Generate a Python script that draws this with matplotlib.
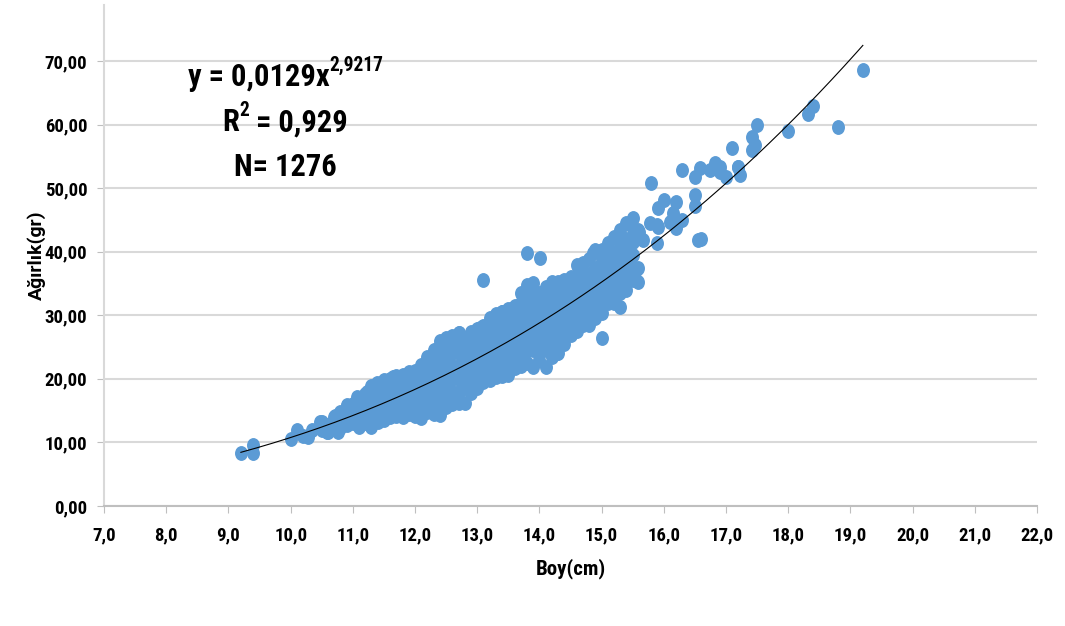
import matplotlib
matplotlib.use("Agg")
import matplotlib.pyplot as plt
from matplotlib import font_manager
from matplotlib.path import Path
import numpy as np

# --- data --------------------------------------------------------------
# dense cloud: one length (cm) per column, weights (gr) in that column
boy_gruplari = [
    10.5, 10.6, 10.7, 10.8, 10.9, 11.0, 11.1, 11.2, 11.3, 11.4,
    11.5, 11.6, 11.7, 11.8, 11.9, 12.0, 12.1, 12.2, 12.3, 12.4,
    12.5, 12.6, 12.7, 12.8, 12.9, 13.0, 13.1, 13.2, 13.3, 13.4,
    13.5, 13.6, 13.7, 13.8, 13.9, 14.0, 14.1, 14.2, 14.3, 14.4,
    14.5, 14.6, 14.7, 14.8, 14.9, 15.0, 15.1, 15.2, 15.3, 15.4,
    15.5,
]
agirlik_gruplari = [
    [12.0, 13.2], [11.7, 12.8], [12.3, 14.0], [12.2, 13.5, 14.8],
    [12.8, 14.5, 15.8], [13.0, 14.5, 16.0], [12.4, 14.0, 15.5, 17.0],
    [13.0, 14.5, 16.0, 17.6], [12.5, 14.0, 15.5, 17.0, 18.8],
    [13.2, 15.0, 16.5, 18.0, 19.2],
    [13.5, 15.2, 17.0, 18.5, 19.8], [14.0, 15.5, 17.0, 18.5, 19.9],
    [14.2, 16.0, 17.5, 19.0, 20.4], [14.0, 15.8, 17.5, 19.2, 20.6],
    [14.5, 16.2, 18.0, 19.5, 21.0], [14.2, 16.0, 17.8, 19.5, 21.2],
    [13.8, 15.5, 17.5, 19.5, 21.0, 22.2], [14.8, 16.5, 18.5, 20.5, 22.0, 23.4],
    [14.5, 15.6, 17.5, 19.5, 21.5, 23.0, 24.5],
    [14.3, 16.5, 18.5, 20.5, 22.5, 24.5, 26.0],
    [15.5, 17.0, 19.0, 21.0, 23.0, 25.0, 26.5],
    [16.0, 18.0, 20.0, 22.0, 24.0, 25.5, 26.8],
    [16.2, 18.0, 20.0, 22.0, 24.0, 26.0, 27.2],
    [16.2, 18.5, 20.5, 22.5, 24.5, 26.5],
    [17.8, 19.5, 21.5, 23.5, 25.5, 27.3],
    [18.5, 20.0, 22.0, 24.0, 26.0, 27.8],
    [19.5, 21.0, 23.0, 25.0, 27.0, 28.3],
    [19.8, 21.5, 23.5, 25.5, 27.5, 29.5],
    [20.3, 22.0, 24.0, 26.0, 28.0, 30.2],
    [20.5, 22.5, 24.5, 26.5, 28.5, 30.5],
    [21.0, 23.0, 25.0, 27.0, 29.0, 31.0],
    [21.7, 23.5, 25.5, 27.5, 29.5, 31.5],
    [22.0, 24.0, 26.0, 28.0, 30.0, 32.0, 33.5],
    [22.5, 24.5, 26.5, 28.5, 30.5, 32.5, 34.7],
    [21.9, 24.5, 26.5, 28.5, 30.5, 32.5, 35.1],
    [23.0, 25.0, 27.0, 29.0, 31.0, 31.9, 33.5],
    [21.9, 24.5, 26.5, 28.5, 30.5, 32.5, 34.5],
    [23.5, 25.5, 27.5, 29.5, 31.5, 33.5, 35.2],
    [24.0, 26.0, 28.0, 30.0, 32.0, 34.0, 35.3],
    [25.5, 27.5, 29.5, 31.5, 33.5, 35.5],
    [26.9, 28.5, 30.5, 32.5, 34.5, 36.0],
    [27.5, 29.5, 31.5, 33.5, 35.5, 37.9],
    [28.5, 30.0, 32.0, 34.0, 36.0, 38.2],
    [28.5, 30.5, 32.5, 34.5, 36.5, 38.8],
    [29.5, 31.5, 33.5, 35.5, 37.5, 40.3],
    [30.3, 32.5, 34.5, 36.5, 38.5, 40.3],
    [31.9, 33.5, 35.5, 37.5, 39.5, 41.3],
    [32.0, 34.0, 36.0, 38.0, 40.0, 42.3],
    [31.3, 33.5, 35.5, 37.5, 39.5, 41.5, 43.4],
    [34.0, 36.0, 38.0, 40.0, 42.0, 44.5],
    [35.5, 37.5, 39.5, 41.5, 43.5, 45.3],
]

# scattered points outside the dense cloud
seyrek_boy = [
    9.2, 9.4, 9.4, 10.0, 10.1, 10.2, 10.28, 10.35, 10.47, 10.58, 10.71, 10.76,
    10.9, 11.07, 11.23, 11.39, 11.65, 12.19, 12.35, 12.5, 12.7, 13.05, 13.4,
    13.58, 13.82, 13.09, 13.8, 14.01, 13.5, 14.28, 15.0, 14.65, 14.86,
    15.46, 15.56, 15.58, 15.59, 15.46, 15.59, 15.6, 15.67, 15.78, 15.89, 15.89,
    15.9, 15.9, 16.0, 16.1, 16.15, 16.2, 16.2, 16.29, 15.8, 16.6, 16.55,
    16.3, 16.5, 16.58, 16.74, 16.82, 16.9, 16.9, 17.0, 17.19, 17.22, 17.2,
    16.5, 16.5, 17.1, 17.42, 17.47, 17.42, 17.5, 18.0, 18.32, 18.4, 18.8, 19.2,
]
seyrek_agirlik = [
    8.3, 9.6, 8.3, 10.6, 11.9, 11.0, 10.8, 12.0, 13.2, 11.6, 14.2, 11.6,
    15.9, 17.1, 17.9, 19.3, 20.3, 22.4, 24.5, 25.8, 27.2, 28.0, 30.5,
    31.1, 34.0, 35.6, 39.8, 39.0, 20.6, 24.0, 26.4, 37.1, 39.8,
    44.5, 37.1, 35.2, 37.4, 36.0, 43.4, 43.1, 41.8, 44.5, 41.3, 44.2,
    46.8, 43.9, 48.1, 44.7, 46.1, 47.8, 43.7, 45.0, 50.8, 42.0, 41.8,
    52.8, 51.8, 53.1, 52.8, 53.9, 52.5, 53.3, 51.8, 53.3, 52.0, 53.3,
    48.9, 47.2, 56.3, 56.0, 56.8, 58.0, 59.9, 59.0, 61.6, 62.9, 59.6, 68.6,
]

# power trendline shown on the chart
trend_a, trend_b = 0.0129, 2.9217
trend_aralik = (9.2, 19.2)

x_ticks = np.arange(7, 23, 1)
y_ticks = np.arange(0, 80, 10)

# --- font: a narrow/condensed face that has a real bold -----------------
bold_narrow = {}
for f in font_manager.fontManager.ttflist:
    if ("Narrow" in f.name or "Condensed" in f.name) and f.weight in (700, "bold"):
        bold_narrow[f.name] = f.fname
prefer = ["Liberation Sans Narrow", "Roboto Condensed", "Open Sans Condensed",
          "Noto Sans Condensed", "DejaVu Sans Condensed"]
font = next((n for n in prefer if n in bold_narrow), None)
stretch = "normal"
if font is None:
    plain = [n for n in bold_narrow
             if not any(w in n for w in ("Light", "Thin", "Black", "Medium", "Semi", "Extra"))]
    font = plain[0] if plain else "DejaVu Sans"
    if font == "DejaVu Sans":
        stretch = "condensed"
plt.rcParams["font.family"] = [font, "DejaVu Sans"]
plt.rcParams["font.stretch"] = stretch

boy = []
agirlik = []
for x, ws in zip(boy_gruplari, agirlik_gruplari):
    boy += [x] * len(ws)
    agirlik += ws
boy += seyrek_boy
agirlik += seyrek_agirlik

# markers in the source are slightly taller than wide
circ = Path.unit_circle()
oval = Path(circ.vertices * [0.87, 1.0], circ.codes)

fig = plt.figure(figsize=(10.65, 6.26), dpi=100)
ax = fig.add_axes([0.0977, 0.1917, 0.876, 0.8003])

grid_c = "#d9d9d9"
ax.scatter(boy, agirlik, s=115, marker=oval, color="#5b9bd5", linewidths=0, zorder=3)

xt = np.linspace(trend_aralik[0], trend_aralik[1], 200)
ax.plot(xt, trend_a * xt ** trend_b, color="black", lw=0.8, zorder=4)

ax.set_xlim(7, 22)
ax.set_ylim(0, 78.8)
ax.set_xticks(x_ticks)
ax.set_yticks(y_ticks)
ax.set_xticklabels([f"{v:.1f}".replace(".", ",") for v in x_ticks],
                   fontsize=13.5, fontweight="bold")
ax.set_yticklabels([f"{v:.2f}".replace(".", ",") for v in y_ticks],
                   fontsize=13.5, fontweight="bold")
ax.tick_params(axis="x", length=5, color="#bfbfbf", pad=10)
ax.tick_params(axis="y", length=5, color="#bfbfbf", pad=7)
ax.grid(axis="y", color=grid_c, lw=1.5)
ax.set_axisbelow(True)
for side in ["top", "right"]:
    ax.spines[side].set_visible(False)
ax.spines["left"].set_color(grid_c)
ax.spines["left"].set_linewidth(1.5)
ax.spines["bottom"].set_color("#bfbfbf")
ax.spines["bottom"].set_linewidth(1.5)

ax.set_xlabel("Boy(cm)", fontsize=15, fontweight="bold", labelpad=10)
ax.set_ylabel("Ağırlık(gr)", fontsize=14, fontweight="bold", labelpad=-1,
              family=["Roboto", "DejaVu Sans"], fontstretch="normal")

# equation block, superscripts placed next to the base text
esize = 22
fig.canvas.draw()
r = fig.canvas.get_renderer()


def fw(t):
    return t.get_window_extent(r).width / fig.bbox.width


def line(parts, cx, cy):
    # parts: list of (text, is_superscript)
    objs = []
    for txt, sup in parts:
        objs.append(fig.text(0, cy + (0.018 if sup else 0), txt,
                             fontsize=esize * (0.64 if sup else 1),
                             fontweight="bold", va="center"))
    x = cx - sum(fw(o) for o in objs) / 2
    for o in objs:
        o.set_x(x)
        x += fw(o)


line([("y = 0,0129x", False), ("2,9217", True)], 0.268, 0.877)
line([("R", False), ("2", True), (" = 0,929", False)], 0.268, 0.805)
line([("N= 1276", False)], 0.268, 0.733)

fig.savefig("out.png", dpi=100)
